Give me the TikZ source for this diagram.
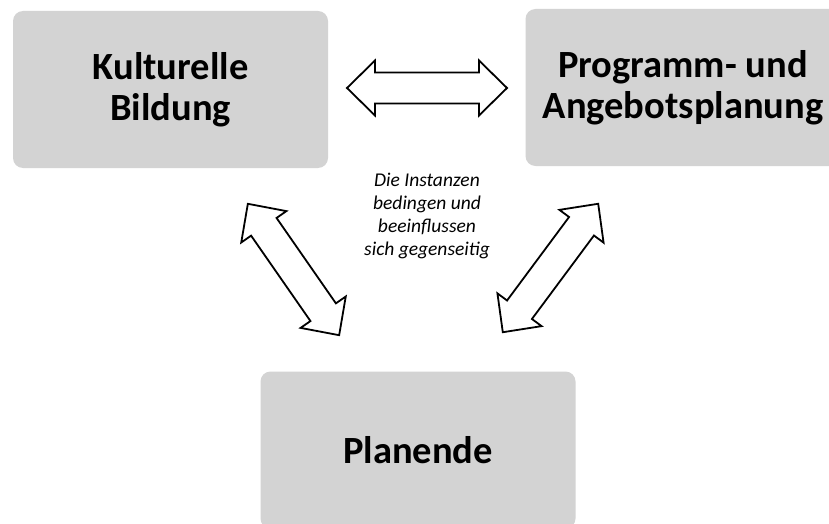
\documentclass[tikz,border=0pt]{standalone}
\usepackage{fontspec}
\setmainfont{Carlito}
\definecolor{boxgray}{RGB}{211,211,211}
\tikzset{
  box/.style={fill=boxgray, rounded corners=10pt, minimum width=315pt, minimum height=157pt, inner sep=0pt, align=center, font=\fontsize{38.5}{41}\selectfont\bfseries},
  blockarrow/.style={draw=black, fill=white, line width=1.8pt, line join=miter},
  note/.style={align=center, inner sep=0pt, font=\fontsize{19.5}{23.3}\selectfont\itshape}
}
\newcommand{\dblblockarrow}[2]{%
  \draw[blockarrow, shift={#1}, rotate=#2]
    (-80,0) -- (-52,-27.5) -- (-52,-15.5) -- (52,-15.5) -- (52,-27.5) -- (80,0)
    -- (52,27.5) -- (52,15.5) -- (-52,15.5) -- (-52,27.5) -- cycle;}
\begin{document}
\begin{tikzpicture}[x=1pt, y=-1pt]
\useasboundingbox (0,0) rectangle (829,524);
\clip (0,0) rectangle (829,524);
\node[box] (kb) at (170.5,89.5) {Kulturelle\\Bildung};
\node[box] (pa) at (683,87.5) {Programm- und\\Angebotsplanung};
\node[box] (pl) at (418,450) {Planende};
\node[note] (txt) at (427,216) {Die Instanzen\\bedingen und\\beeinflussen\\sich gegenseitig};
\dblblockarrow{(427,88)}{0}
\dblblockarrow{(293.5,269.5)}{-55.2}
\dblblockarrow{(550.5,268)}{53.4}
\end{tikzpicture}
\end{document}
